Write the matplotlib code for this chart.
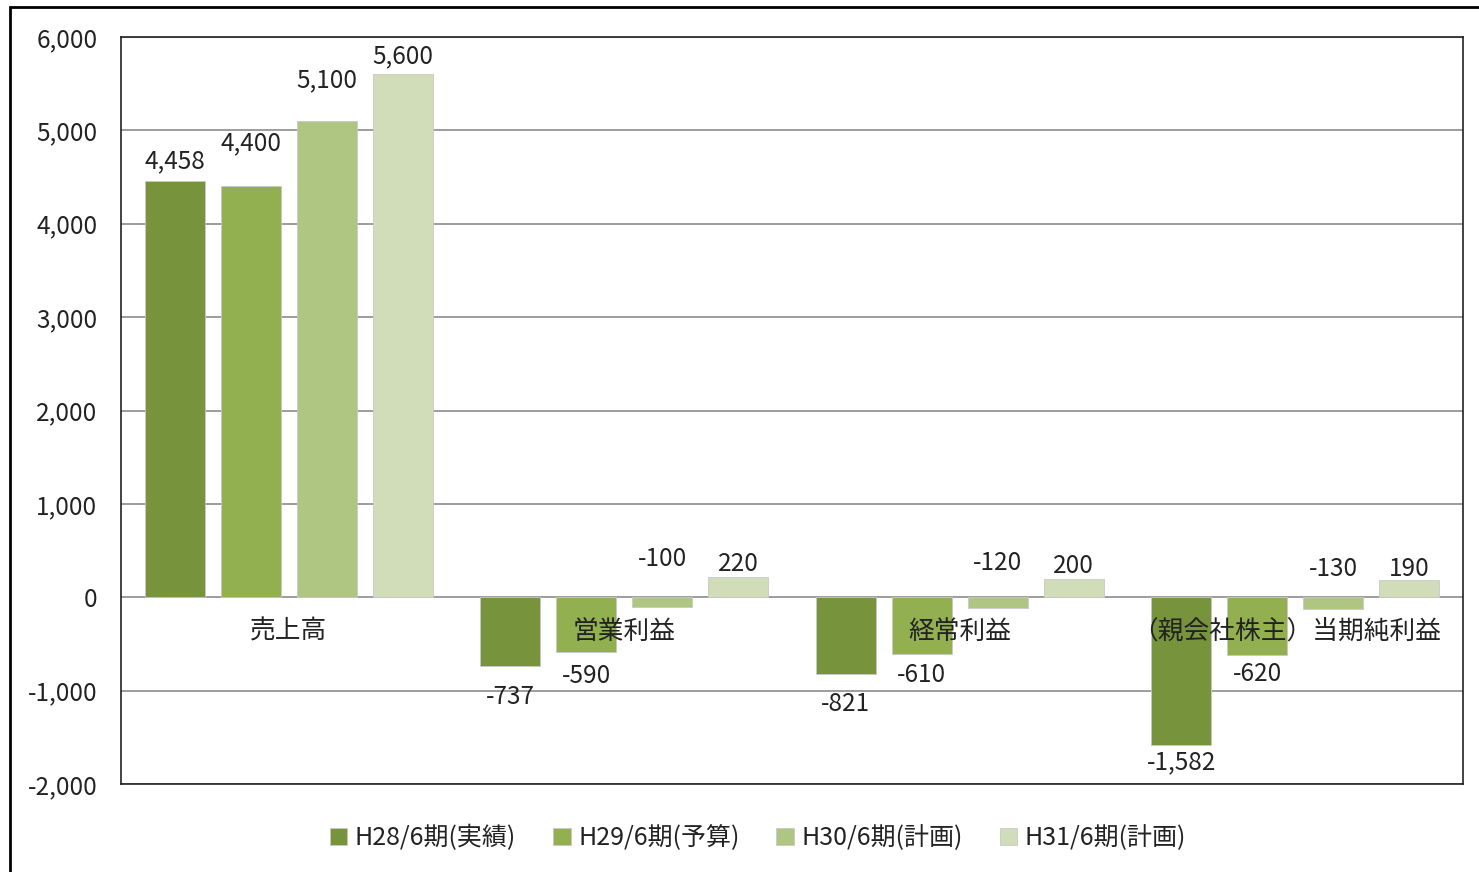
import numpy as np
import matplotlib.pyplot as plt
from matplotlib.patches import Rectangle

plt.rcParams['font.family'] = ['Noto Sans CJK JP', 'DejaVu Sans']

categories = ['売上高', '営業利益', '経常利益', '（親会社株主）当期純利益']
series_names = ['H28/6期(実績)', 'H29/6期(予算)', 'H30/6期(計画)', 'H31/6期(計画)']
values = [
    [4458, -737, -821, -1582],
    [4400, -590, -610, -620],
    [5100, -100, -120, -130],
    [5600, 220, 200, 190],
]
colors = ['#77933C', '#92B050', '#AFC682', '#D0DDB8']

# vertical shift of each value label in pixels (label centre relative to bar end;
# small negative bars are measured from the zero line)
label_dy = [
    [20, -31, -30, -17],
    [43, -24, -21, -19],
    [41, 38, 34, 28],
    [18, 13, 13, 11],
]

fig = plt.figure(figsize=(14.79, 8.72), dpi=100)
ax = fig.add_axes([121 / 1479, 1 - 784 / 872, (1463 - 121) / 1479, (784 - 37) / 872])

# outer border of the chart area
fig.patches.append(Rectangle((10 / 1479, -0.05), 1.1, 1 - 7 / 872 + 0.05,
                             transform=fig.transFigure, fill=False,
                             edgecolor='black', linewidth=2))

px_to_pt = 72 / 100
x = np.arange(len(categories))
step = 0.2265
width = 0.18
for i, (name, vals, c) in enumerate(zip(series_names, values, colors)):
    pos = x + (i - 1.5) * step
    ax.bar(pos, vals, width, color=c, label=name, edgecolor='#c8c8c8',
           linewidth=0.6, zorder=3)
    for px, v, dy in zip(pos, vals, label_dy[i]):
        anchor = 0 if -200 < v < 0 else v
        ax.annotate(f'{v:,}', (px, anchor), xytext=(0, dy * px_to_pt),
                    textcoords='offset points', ha='center', va='center',
                    fontsize=17.5, color='#222222', zorder=6)

for xi, cat in zip(x, categories):
    # fullwidth bracket carries blank space on its left, nudge that label back
    dx = -0.025 if cat.startswith('（') else 0
    ax.text(xi + dx, -370, cat, ha='center', va='center', fontsize=18.5,
            color='#222222', zorder=5)

ax.set_xlim(-0.5, 3.5)
ax.set_ylim(-2000, 6000)
ax.set_yticks(range(-2000, 6001, 1000))
ax.set_yticklabels([f'{t:,}' for t in range(-2000, 6001, 1000)], fontsize=17.5,
                   color='#222222')
ax.set_xticks([])
ax.tick_params(axis='y', length=0, pad=17)
ax.grid(axis='y', color='#8c8c8c', linewidth=1.2, zorder=0)
for s in ax.spines.values():
    s.set_color('#222222')
    s.set_linewidth(1.2)

leg = fig.legend(loc='center', bbox_to_anchor=(758 / 1479, 1 - 838 / 872), ncol=4,
                 frameon=False, fontsize=18, handlelength=0.7, handleheight=0.7,
                 handletextpad=0.3, columnspacing=1.48)
for t in leg.get_texts():
    t.set_color('#222222')

fig.savefig('out.png', dpi=100)
